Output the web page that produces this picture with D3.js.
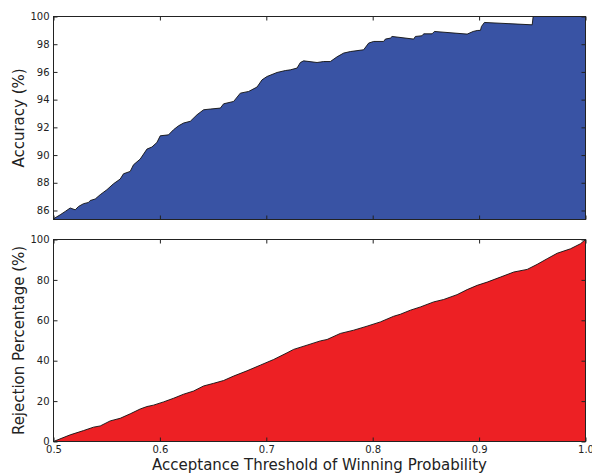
<!DOCTYPE html>
<html>
<head>
<meta charset="utf-8">
<script src="https://cdn.jsdelivr.net/npm/d3@7"></script>
<style>
  body { margin: 0; background: #fff; }
  text { font-family: "DejaVu Sans", sans-serif; fill: #222; }
  .axis path { display: none; }
  .axis line { stroke: #222; stroke-width: 1; }
  .axis text { font-size: 10px; }
</style>
</head>
<body>
<svg id="chart" width="592" height="475"></svg>
<script>
// threshold values (x) and accuracy (%)
const accThreshold = [0.500, 0.5063, 0.5110, 0.5157, 0.5204, 0.5235, 0.5282, 0.5329, 0.5345, 0.5392,
  0.5439, 0.5502, 0.5564, 0.5627, 0.5658, 0.5721, 0.5752, 0.5815, 0.5878, 0.5925,
  0.5972, 0.6003, 0.6081, 0.6128, 0.6175, 0.6222, 0.6286, 0.6349, 0.6411, 0.6474,
  0.6568, 0.6599, 0.6693, 0.6756, 0.6834, 0.6913, 0.6960, 0.7007, 0.7101, 0.7179,
  0.7226, 0.7289, 0.7320, 0.7351, 0.7477, 0.7539, 0.7602, 0.7665, 0.7727, 0.7790,
  0.7915, 0.7962, 0.8009, 0.8103, 0.8119, 0.8166, 0.8182, 0.8385, 0.8401, 0.8464,
  0.8479, 0.8558, 0.8580, 0.8888, 0.8944, 0.8982, 0.9013, 0.9022, 0.9050, 0.9499,
  0.9508, 1.000];
const accuracy = [85.40, 85.69, 85.93, 86.18, 86.05, 86.29, 86.49, 86.58, 86.72, 86.83,
  87.14, 87.50, 87.93, 88.27, 88.65, 88.82, 89.30, 89.71, 90.43, 90.58,
  90.91, 91.39, 91.46, 91.83, 92.11, 92.31, 92.44, 92.91, 93.27, 93.32,
  93.39, 93.70, 93.87, 94.47, 94.59, 94.91, 95.43, 95.67, 95.96, 96.10,
  96.15, 96.28, 96.68, 96.80, 96.68, 96.75, 96.75, 97.09, 97.36, 97.47,
  97.60, 98.08, 98.20, 98.20, 98.37, 98.44, 98.56, 98.37, 98.56, 98.61,
  98.75, 98.75, 98.92, 98.73, 98.92, 98.99, 99.00, 99.28, 99.57, 99.40,
  100.0, 100.0];

// threshold values (x) and rejection percentage
const rejThreshold = [0.500, 0.5157, 0.5282, 0.5376, 0.5439, 0.5533, 0.5627, 0.5721, 0.5815, 0.5878,
  0.5940, 0.6034, 0.6128, 0.6222, 0.6317, 0.6411, 0.6505, 0.6599, 0.6693, 0.6819,
  0.6944, 0.7069, 0.7195, 0.7257, 0.7383, 0.7508, 0.7571, 0.7696, 0.7821, 0.7947,
  0.8072, 0.8197, 0.8260, 0.8354, 0.8448, 0.8573, 0.8667, 0.8793, 0.8888, 0.8982,
  0.9076, 0.9201, 0.9326, 0.9452, 0.9546, 0.9640, 0.9734, 0.9859, 0.9953, 1.000];
const rejection = [0.0, 3.3, 5.4, 7.1, 7.7, 10.2, 11.5, 13.7, 16.1, 17.3,
  18.0, 19.6, 21.4, 23.4, 25.0, 27.5, 28.8, 30.2, 32.4, 35.0,
  37.8, 40.6, 43.9, 45.6, 47.7, 49.8, 50.5, 53.5, 55.1, 57.1,
  59.2, 62.0, 63.0, 65.0, 66.6, 69.1, 70.3, 72.7, 75.2, 77.3,
  78.9, 81.4, 83.9, 85.2, 87.7, 90.5, 93.2, 95.4, 97.9, 100.0];

const xTicks = [0.5, 0.6, 0.7, 0.8, 0.9, 1.0];
const accTicks = [86, 88, 90, 92, 94, 96, 98, 100];
const rejTicks = [0, 20, 40, 60, 80, 100];

const svg = d3.select("#chart");
const left = 53.5, right = 585.5;

const x = d3.scaleLinear().domain([0.5, 1.0]).range([left, right]);

function panel(opts) {
  const y = d3.scaleLinear().domain(opts.domain).range([opts.bottom, opts.top]);
  const pts = opts.xs.map((d, i) => [d, opts.ys[i]]);
  const g = svg.append("g");

  g.append("path")
    .datum(pts)
    .attr("fill", opts.color)
    .attr("d", d3.area().x((d) => x(d[0])).y0(opts.bottom).y1((d) => y(d[1])));

  g.append("path")
    .datum(pts)
    .attr("fill", "none")
    .attr("stroke", "#111")
    .attr("stroke-width", 0.9)
    .attr("d", d3.line().x((d) => x(d[0])).y((d) => y(d[1])));

  // inward ticks on all four sides
  g.append("g").attr("class", "axis")
    .attr("transform", `translate(0,${opts.bottom})`)
    .call(d3.axisBottom(x).tickValues(xTicks).tickSize(-4).tickPadding(4)
      .tickFormat(opts.xLabels ? d3.format(".1f") : ""));
  g.append("g").attr("class", "axis")
    .attr("transform", `translate(0,${opts.top})`)
    .call(d3.axisTop(x).tickValues(xTicks).tickSize(-4).tickFormat(""));
  g.append("g").attr("class", "axis")
    .attr("transform", `translate(${left},0)`)
    .call(d3.axisLeft(y).tickValues(opts.ticks).tickSize(-4).tickPadding(4));
  g.append("g").attr("class", "axis")
    .attr("transform", `translate(${right},0)`)
    .call(d3.axisRight(y).tickValues(opts.ticks).tickSize(-4).tickFormat(""));

  g.append("rect")
    .attr("x", left).attr("y", opts.top)
    .attr("width", right - left).attr("height", opts.bottom - opts.top)
    .attr("fill", "none").attr("stroke", "#222").attr("stroke-width", 1);

  g.append("text")
    .attr("transform", `translate(24,${(opts.top + opts.bottom) / 2}) rotate(-90)`)
    .attr("text-anchor", "middle")
    .style("font-size", "15px")
    .text(opts.label);
}

panel({ xs: accThreshold, ys: accuracy, domain: [85.35, 100], ticks: accTicks,
  top: 16.5, bottom: 219.5, color: "#3953a4", label: "Accuracy (%)", xLabels: false });
panel({ xs: rejThreshold, ys: rejection, domain: [0, 100], ticks: rejTicks,
  top: 239.5, bottom: 441.5, color: "#ed2024", label: "Rejection Percentage (%)", xLabels: true });

svg.append("text")
  .attr("x", (left + right) / 2).attr("y", 470)
  .attr("text-anchor", "middle")
  .style("font-size", "15px")
  .text("Acceptance Threshold of Winning Probability");
</script>
</body>
</html>
